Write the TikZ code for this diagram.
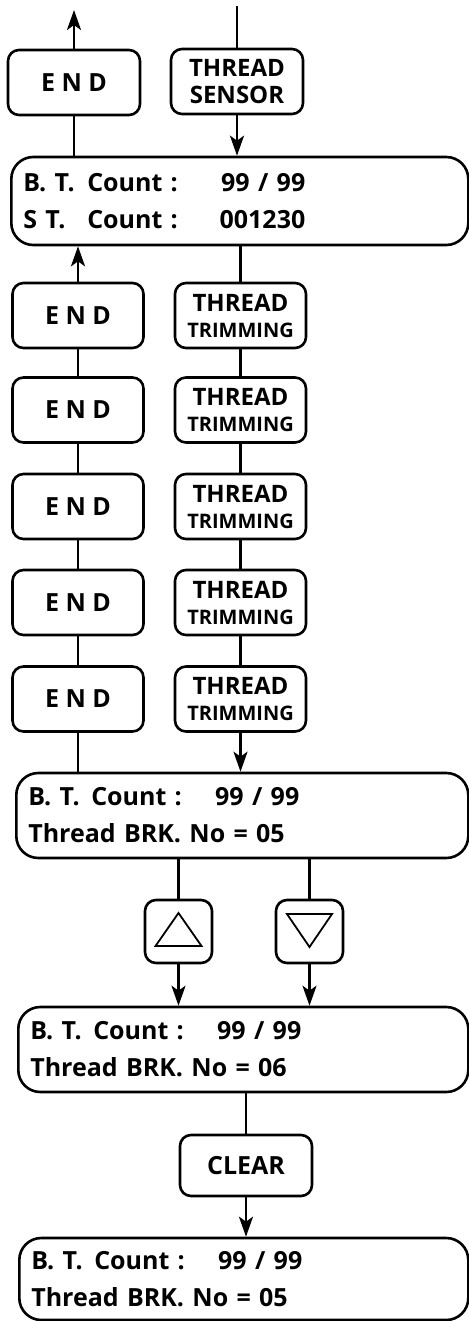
\documentclass[tikz,border=0pt]{standalone}
\usepackage{fontspec}
\setmainfont{Open Sans}
\usetikzlibrary{arrows.meta, positioning}
\tikzset{
    knode/.style={rectangle, draw, line width=2.6pt, rounded corners=11pt, minimum width=131pt, minimum height=65pt, inner sep=0pt, align=center, font=\fontsize{25}{28}\selectfont\bfseries},
    tnode/.style={knode, font=\fontsize{24}{27}\selectfont\bfseries},
    bnode/.style={knode, minimum width=67pt, minimum height=63pt},
    lnode/.style={rectangle, draw, line width=2.6pt, rounded corners=22pt, anchor=west, align=left, inner xsep=12pt, inner ysep=0pt, text width=#1, font=\fontsize{25}{37}\selectfont\bfseries},
    link/.style={draw, line width=2.6pt},
    flow/.style={link, -{Stealth[length=20pt, width=14pt, inset=5pt]}},
    tri/.style={draw, line width=1.8pt, line join=miter},
}
\newcommand{\threadtrim}{THREAD\\[-1pt]{\fontsize{20}{20}\selectfont TRIMMING}}

\begin{document}
\begin{tikzpicture}[x=1pt, y=-1pt]
    \useasboundingbox (0,0) rectangle (468,1321);

    % top row
    \node[knode, minimum width=132pt] (endtop) at (74,82.5) {E N D};
    \node[tnode, minimum width=132pt] (sensor) at (237,81.5) {THREAD\\SENSOR};
    \coordinate (exit) at (74,10);
    \coordinate (entry) at (237,6);

    \node[lnode=433pt, minimum height=88pt] (bt1) at (10,201)
        {\makebox[64pt][l]{B. T.}\makebox[218pt]{Count :\hfill 99 / 99}\\
         \makebox[64pt][l]{S T.}\makebox[218pt]{Count :\hfill 001230}};

    % END / THREAD TRIMMING pairs
    \node[knode] (end1) at (78,315.5) {E N D};
    \node[knode] (end2) at (78,410) {E N D};
    \node[knode] (end3) at (78,506.5) {E N D};
    \node[knode] (end4) at (78,602.5) {E N D};
    \node[knode] (end5) at (78,699) {E N D};
    \node[tnode] (trim1) at (240.5,315.5) {\threadtrim};
    \node[tnode] (trim2) at (240.5,410) {\threadtrim};
    \node[tnode] (trim3) at (240.5,506.5) {\threadtrim};
    \node[tnode] (trim4) at (240.5,602.5) {\threadtrim};
    \node[tnode] (trim5) at (240.5,699) {\threadtrim};

    \node[lnode=428pt, minimum height=85pt] (bt2) at (15,815.5)
        {\makebox[63pt][l]{B. T.}\makebox[208pt]{Count :\hfill 99 / 99}\\
         Thread BRK. No = 05};

    \node[bnode] (up) at (178.5,931.5) {};
    \node[bnode] (down) at (309.5,931.5) {};
    \draw[tri] ([shift={(-23,14.5)}]up.center) -- ([shift={(23,14.5)}]up.center) -- ([shift={(0,-18.5)}]up.center) -- cycle;
    \draw[tri] ([shift={(-22.5,-17.5)}]down.center) -- ([shift={(22.5,-17.5)}]down.center) -- ([shift={(0,15.5)}]down.center) -- cycle;

    \node[lnode=426pt, minimum height=85pt] (bt3) at (17,1049.5)
        {\makebox[63pt][l]{B. T.}\makebox[208pt]{Count :\hfill 99 / 99}\\
         Thread BRK. No = 06};

    \node[knode, minimum width=132pt, minimum height=61pt] (clear) at (246,1165.5) {CLEAR};

    \node[lnode=425pt, minimum height=82pt] (bt4) at (18,1279)
        {\makebox[63pt][l]{B. T.}\makebox[208pt]{Count :\hfill 99 / 99}\\
         Thread BRK. No = 05};

    % connectors
    \draw[flow] (endtop.north) -- (exit);
    \draw[link] (entry) -- (sensor.north);
    \draw[link] (endtop.south) -- (endtop.south |- bt1.north);
    \draw[flow] (sensor.south) -- (sensor.south |- bt1.north);
    \draw[flow] (end1.north) -- (end1.north |- bt1.south);
    \draw[link] (end1.south) -- (end2.north);
    \draw[link] (end2.south) -- (end3.north);
    \draw[link] (end3.south) -- (end4.north);
    \draw[link] (end4.south) -- (end5.north);
    \draw[link] (end5.south) -- (end5.south |- bt2.north);
    \draw[link] (trim1.north |- bt1.south) -- (trim1.north);
    \draw[link] (trim1.south) -- (trim2.north);
    \draw[link] (trim2.south) -- (trim3.north);
    \draw[link] (trim3.south) -- (trim4.north);
    \draw[link] (trim4.south) -- (trim5.north);
    \draw[flow] (trim5.south) -- (trim5.south |- bt2.north);
    \draw[link] (up.north |- bt2.south) -- (up.north);
    \draw[link] (down.north |- bt2.south) -- (down.north);
    \draw[flow] (up.south) -- (up.south |- bt3.north);
    \draw[flow] (down.south) -- (down.south |- bt3.north);
    \draw[link] (clear.north |- bt3.south) -- (clear.north);
    \draw[flow] (clear.south) -- (clear.south |- bt4.north);
\end{tikzpicture}
\end{document}
